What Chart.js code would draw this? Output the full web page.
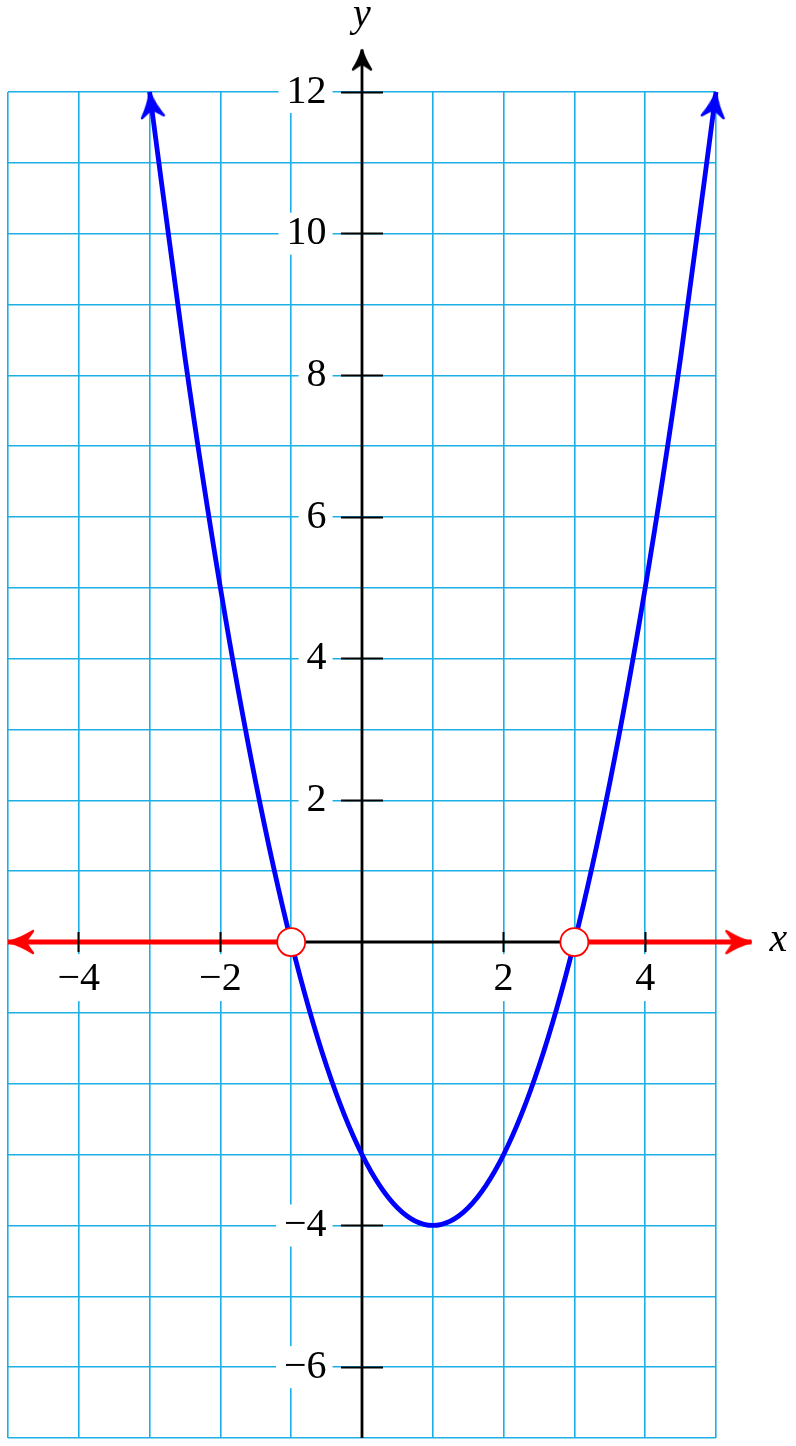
<!DOCTYPE html>
<html>
<head>
<meta charset="utf-8">
<script src="https://cdn.jsdelivr.net/npm/chart.js@4.4.1/dist/chart.umd.min.js"></script>
<style>
  html, body { margin: 0; padding: 0; background: #fff; }
  canvas { display: block; }
</style>
</head>
<body>
<canvas id="graph" width="796" height="1446"></canvas>
<script>
// parabola
const curveX = [-3, -2.5, -2, -1.5, -1, -0.5, 0, 0.5, 1, 1.5, 2, 2.5, 3, 3.5, 4, 4.5, 5];
const curveY = [12, 8.25, 5, 2.25, 0, -1.75, -3, -3.75, -4, -3.75, -3, -1.75, 0, 2.25, 5, 8.25, 12];

// red rays on the x axis and the open points
const rayLeftX = [-5, -1];
const rayLeftY = [0, 0];
const rayRightX = [3, 5.5];
const rayRightY = [0, 0];
const holesX = [-1, 3];
const holesY = [0, 0];

// axis lines
const xAxisX = [-5, 5.5];
const xAxisY = [0, 0];
const yAxisX = [0, 0];
const yAxisY = [-7, 12.6];

// labelled ticks
const xTicks = [-4, -2, 2, 4];
const yTicks = [-6, -4, 2, 4, 6, 8, 10, 12];

const GRID = '#1cafe6';
const FONT = { family: '"Liberation Serif", "DejaVu Serif", serif', size: 40, lineHeight: 1 };

const pts = (xs, ys) => xs.map((x, i) => ({ x, y: ys[i] }));
const minus = v => (v < 0 ? '\u2212' + Math.abs(v) : String(v));

// axes sit inside the plot, so none of them may take room from it
function flat(s) {
  if (s.isHorizontal()) s.height = 0; else s.width = 0;
  s.paddingLeft = s.paddingRight = s.paddingTop = s.paddingBottom = 0;
}

function makeArrow(color, len, half) {
  const s = Math.ceil(len + 6);
  const c = document.createElement('canvas');
  c.width = c.height = 2 * s;
  const g = c.getContext('2d');
  g.translate(s, s);
  g.fillStyle = color;
  g.strokeStyle = color;
  g.lineWidth = 2.4;
  g.lineJoin = 'round';
  g.beginPath();
  g.moveTo(-1, 0);
  g.quadraticCurveTo(-len * 0.5, -half * 0.3, -len, -half);
  g.quadraticCurveTo(-len * 0.78, -half * 0.35, -len * 0.72, 0);
  g.quadraticCurveTo(-len * 0.78, half * 0.35, -len, half);
  g.quadraticCurveTo(-len * 0.5, half * 0.3, -1, 0);
  g.closePath();
  g.fill();
  g.stroke();
  return c;
}

const blueArrow = makeArrow('#0000ff', 25, 11);
const redArrow = makeArrow('#ff0000', 25, 11);
const blackArrow = makeArrow('#000000', 20, 9);

function isEnd(c, ends) {
  if (c.dataIndex === undefined) return false;
  const last = c.dataset.data.length - 1;
  return (ends.includes('start') && c.dataIndex === 0) || (ends.includes('end') && c.dataIndex === last);
}

function heading(c) {
  if (c.dataIndex === undefined) return 0;
  const d = c.dataset.data, i = c.dataIndex;
  const j = i === 0 ? 1 : i - 1;
  const sx = c.chart.scales.x, sy = c.chart.scales.y;
  const dx = sx.getPixelForValue(d[i].x) - sx.getPixelForValue(d[j].x);
  const dy = sy.getPixelForValue(d[i].y) - sy.getPixelForValue(d[j].y);
  return Math.atan2(dy, dx) * 180 / Math.PI;
}

function arrows(img, ends) {
  return {
    pointStyle: c => (isEnd(c, ends) ? img : 'circle'),
    pointRadius: c => (isEnd(c, ends) ? 50 : 0),
    pointBorderWidth: 0,
    rotation: heading,
    clip: false
  };
}

const axisNames = {
  id: 'axisNames',
  afterDraw(chart) {
    const { ctx, scales: { x, y } } = chart;
    ctx.save();
    ctx.font = 'italic 40px "Liberation Serif", "DejaVu Serif", serif';
    ctx.fillStyle = '#000';
    ctx.textAlign = 'center';
    ctx.textBaseline = 'alphabetic';
    ctx.fillText('x', x.getPixelForValue(5.5) + 27, y.getPixelForValue(0) + 9);
    ctx.fillText('y', x.getPixelForValue(0), y.getPixelForValue(12.6) - 23);
    ctx.restore();
  }
};

const tickScale = (axis, at, list, len) => ({
  type: 'linear',
  axis,
  min: axis === 'x' ? -5 : -7,
  max: axis === 'x' ? 5 : 12,
  position: at,
  afterBuildTicks: s => { s.ticks = list.map(v => ({ value: v })); },
  afterFit: flat,
  ticks: { display: false },
  border: { display: false },
  grid: { drawOnChartArea: false, drawTicks: true, tickLength: len, tickColor: '#000', tickWidth: 2, z: 1 }
});

const labelScale = (axis, at, list, pad) => ({
  type: 'linear',
  axis,
  min: axis === 'x' ? -5 : -7,
  max: axis === 'x' ? 5 : 12,
  position: at,
  afterBuildTicks: s => { s.ticks = list.map(v => ({ value: v })); },
  afterFit: flat,
  border: { display: false },
  grid: { display: false, drawTicks: false },
  ticks: {
    font: FONT,
    color: '#000',
    padding: pad,
    callback: v => minus(v),
    showLabelBackdrop: true,
    backdropColor: '#fff',
    backdropPadding: axis === 'x' ? { top: 5, bottom: 2, left: 4, right: 4 } : { top: 1, bottom: 1, left: 8, right: 6 }
  }
});

new Chart(document.getElementById('graph'), {
  type: 'line',
  data: {
    datasets: [
      {
        data: pts(holesX, holesY),
        showLine: false,
        pointRadius: 14,
        pointBackgroundColor: '#fff',
        pointBorderColor: '#ff0000',
        pointBorderWidth: 1.8,
        order: 0
      },
      {
        data: pts(curveX, curveY),
        borderColor: '#0000ff',
        borderWidth: 4.8,
        cubicInterpolationMode: 'monotone',
        ...arrows(blueArrow, ['start', 'end']),
        order: 1
      },
      {
        data: pts(rayLeftX, rayLeftY),
        borderColor: '#ff0000',
        borderWidth: 5,
        ...arrows(redArrow, ['start']),
        order: 2
      },
      {
        data: pts(rayRightX, rayRightY),
        borderColor: '#ff0000',
        borderWidth: 5,
        ...arrows(redArrow, ['end']),
        order: 2
      },
      {
        data: pts(yAxisX, yAxisY),
        borderColor: '#000',
        borderWidth: 2.8,
        ...arrows(blackArrow, ['end']),
        order: 3
      },
      {
        data: pts(xAxisX, xAxisY),
        borderColor: '#000',
        borderWidth: 3,
        pointRadius: 0,
        clip: false,
        order: 3
      }
    ]
  },
  options: {
    responsive: false,
    animation: false,
    devicePixelRatio: 1,
    events: [],
    layout: { autoPadding: false, padding: { left: 8, right: 80, top: 92, bottom: 8 } },
    plugins: { legend: { display: false }, tooltip: { enabled: false } },
    scales: {
      x: {
        type: 'linear', axis: 'x', min: -5, max: 5, position: { y: 0 },
        afterFit: flat,
        ticks: { stepSize: 1, display: false },
        border: { display: false },
        grid: { color: GRID, lineWidth: 1.6, drawTicks: false }
      },
      y: {
        type: 'linear', axis: 'y', min: -7, max: 12, position: { x: 0 },
        afterFit: flat,
        ticks: { stepSize: 1, display: false },
        border: { display: false },
        grid: { color: GRID, lineWidth: 1.6, drawTicks: false }
      },
      xTickDown: tickScale('x', { y: 0 }, xTicks, 10),
      xTickUp: tickScale('x', { y: 0 }, xTicks, -10),
      yTickLeft: tickScale('y', { x: 0 }, yTicks, 21),
      yTickRight: tickScale('y', { x: 0 }, yTicks, -21),
      xLabels: labelScale('x', { y: 0 }, xTicks, 17),
      yLabels: labelScale('y', { x: -0.5 }, yTicks, 0)
    }
  },
  plugins: [axisNames]
});
</script>
</body>
</html>
